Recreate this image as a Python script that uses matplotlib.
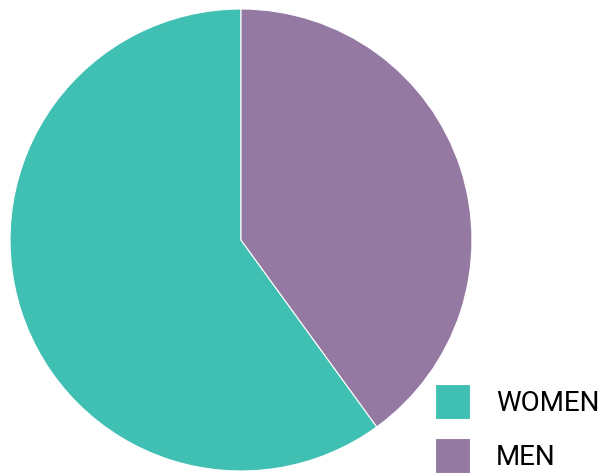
import matplotlib
matplotlib.use('Agg')
import matplotlib.pyplot as plt

labels = ['WOMEN', 'MEN']
shares = [60, 40]
colors = ['#40bfb3', '#9479a2']

fig = plt.figure(figsize=(6.11, 4.74), dpi=100)

# pie centred at (241, 240) px with radius 231 px
ax = fig.add_axes([10 / 611, (474 - 240 - 231) / 474, 462 / 611, 462 / 474])
wedges, _ = ax.pie(shares, colors=colors, startangle=90, counterclock=True,
                   radius=1, wedgeprops=dict(edgecolor='white', linewidth=0.8))
ax.set_xlim(-1, 1)
ax.set_ylim(-1, 1)
ax.set_aspect('equal')
ax.axis('off')

leg = fig.legend(wedges, labels, loc='upper left',
                 bbox_to_anchor=(435 / 611, 1 - 384 / 474),
                 frameon=False, borderpad=0, borderaxespad=0,
                 handlelength=1.26, handleheight=1.56, handletextpad=0.94,
                 labelspacing=0.7,
                 prop=dict(family=['Roboto', 'DejaVu Sans'], size=20))

fig.savefig('out.png', dpi=100)
